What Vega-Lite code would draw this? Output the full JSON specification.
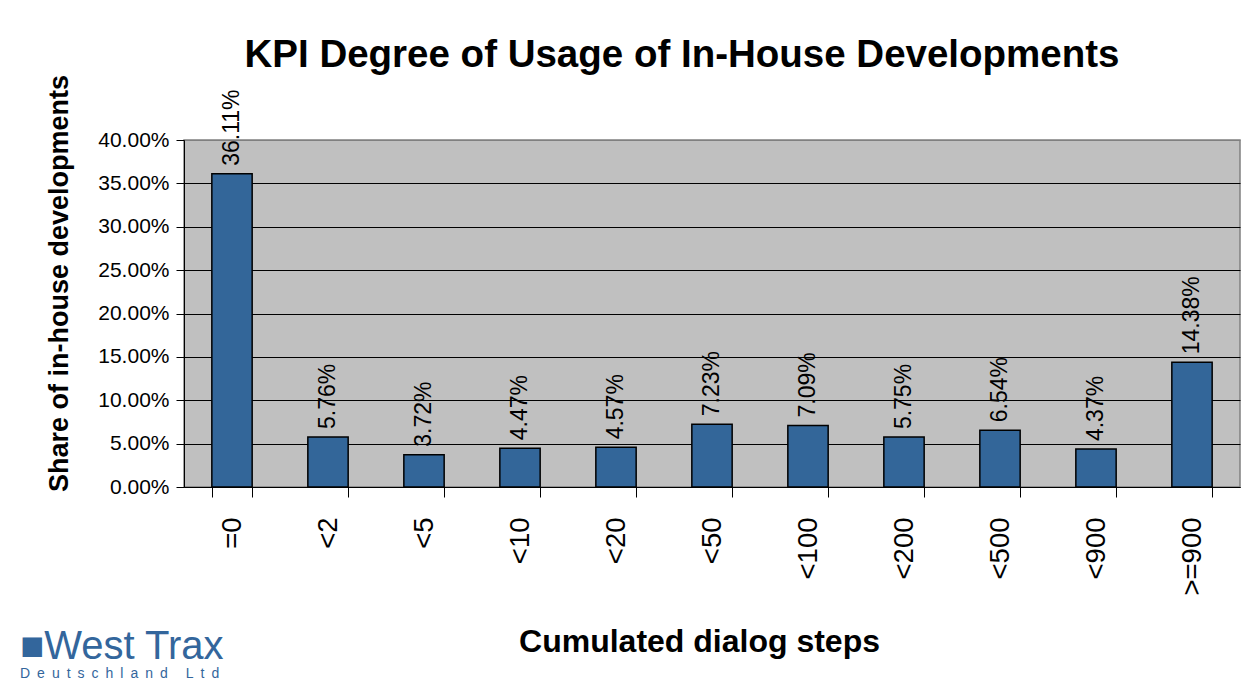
{
  "$schema": "https://vega.github.io/schema/vega-lite/v6.json",
  "padding": {"left": 19, "top": 36, "right": 5, "bottom": 0},
  "background": "white",
  "title": {
    "text": "KPI Degree of Usage of In-House Developments",
    "fontSize": 38.5,
    "fontWeight": "bold",
    "color": "black",
    "anchor": "middle",
    "offset": -2,
    "dx": 52
  },
  "vconcat": [
    {
      "width": 1056,
      "height": 347,
      "title": {
        "text": "■West Trax",
        "subtitle": "D\u2002e\u2002u\u2002t\u2002s\u2002c\u2002h\u2002l\u2002a\u2002n\u2002d\u2002 \u2002L\u2002t\u2002d",
        "orient": "bottom",
        "anchor": "start",
        "frame": "bounds",
        "fontSize": 40,
        "fontWeight": "normal",
        "color": "#33669C",
        "subtitleColor": "#33669C",
        "subtitleFontSize": 14,
        "subtitlePadding": 0,
        "offset": -30,
        "dx": -25
      },
      "data": {
        "values": [
          {"steps": "=0", "share": 0.3611},
          {"steps": "<2", "share": 0.0576},
          {"steps": "<5", "share": 0.0372},
          {"steps": "<10", "share": 0.0447},
          {"steps": "<20", "share": 0.0457},
          {"steps": "<50", "share": 0.0723},
          {"steps": "<100", "share": 0.0709},
          {"steps": "<200", "share": 0.0575},
          {"steps": "<500", "share": 0.0654},
          {"steps": "<900", "share": 0.0437},
          {"steps": ">=900", "share": 0.1438}
        ]
      },
      "encoding": {
        "x": {
          "field": "steps",
          "type": "nominal",
          "sort": null,
          "scale": {"paddingInner": 0.58, "paddingOuter": 0.29},
          "axis": {
            "title": "Cumulated dialog steps",
            "titleFontSize": 32,
            "titleFontWeight": "bold",
            "titleColor": "black",
            "titleX": 515,
            "titleY": 164,
            "titleBaseline": "alphabetic",
            "titleAlign": "center",
            "labelAngle": 270,
            "labelFontSize": 27.5,
            "labelColor": "black",
            "labelPadding": 20,
            "tickSize": 10,
            "tickColor": "black",
            "tickWidth": 1,
            "tickBand": "extent",
            "domainColor": "black",
            "domainWidth": 1,
            "grid": false,
            "labelOverlap": false
          }
        },
        "y": {
          "field": "share",
          "type": "quantitative",
          "scale": {"domain": [0, 0.4], "nice": false},
          "axis": {
            "title": "Share of in-house developments",
            "format": ".2%",
            "values": [0, 0.05, 0.1, 0.15, 0.2, 0.25, 0.3, 0.35, 0.4],
            "titleFontSize": 27,
            "titleFontWeight": "bold",
            "titleColor": "black",
            "titleX": -117,
            "titleY": 143,
            "titleBaseline": "alphabetic",
            "titleAlign": "center",
            "titleAngle": 270,
            "labelFontSize": 21,
            "labelColor": "black",
            "labelPadding": 7,
            "tickSize": 8,
            "tickColor": "black",
            "tickWidth": 1,
            "domainColor": "black",
            "domainWidth": 1,
            "grid": true,
            "gridColor": {"condition": {"test": "datum.value >= 0.39", "value": "#808080"}, "value": "black"},
            "gridWidth": 1,
            "gridOpacity": 1
          }
        }
      },
      "layer": [
        {
          "mark": {"type": "bar", "color": "#336699", "stroke": "black", "strokeWidth": 1.5}
        },
        {
          "mark": {
            "type": "text",
            "angle": 270,
            "align": "left",
            "baseline": "middle",
            "dx": 8,
            "fontSize": 23,
            "color": "black"
          },
          "encoding": {
            "text": {"field": "share", "type": "quantitative", "format": ".2%"}
          }
        }
      ]
    }
  ],
  "config": {
    "font": "Liberation Sans",
    "view": {"fill": "#C0C0C0", "stroke": "#808080", "strokeWidth": 1.5}
  }
}
